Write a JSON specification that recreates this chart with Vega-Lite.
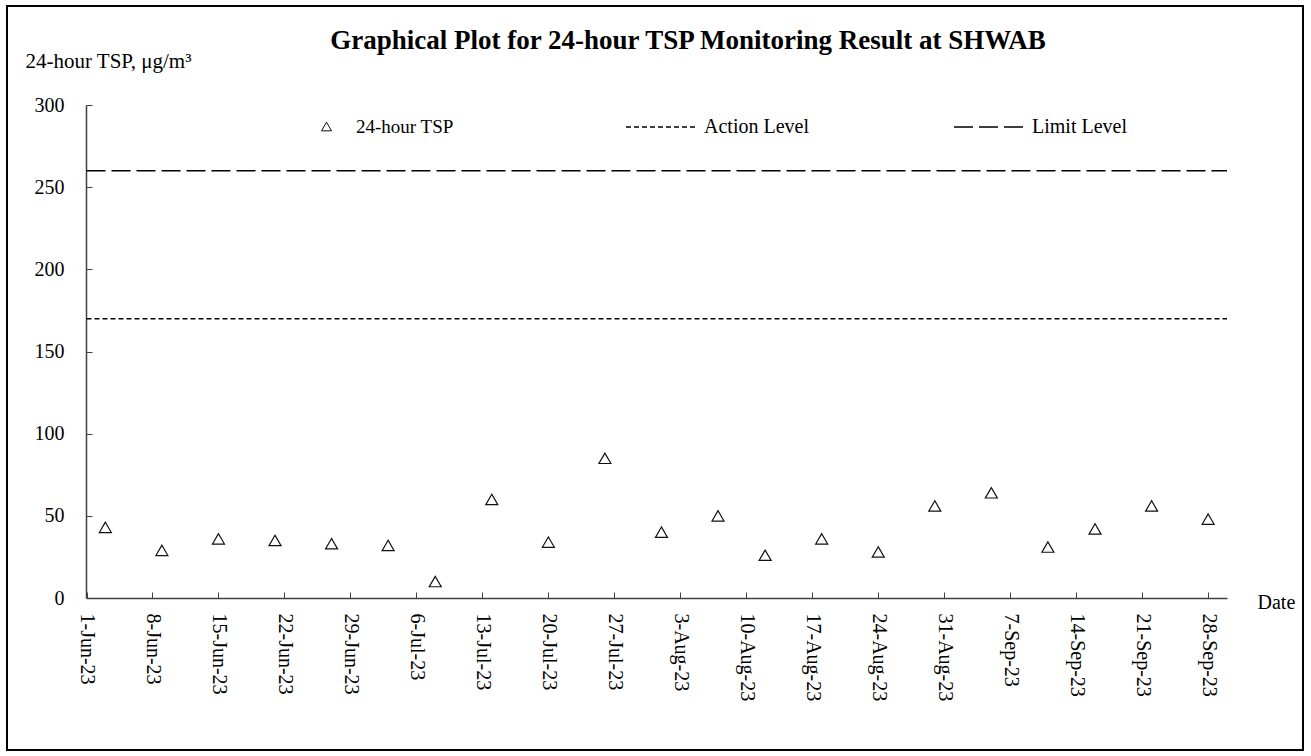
{
  "$schema": "https://vega.github.io/schema/vega-lite/v6.json",
  "width": 1296,
  "height": 744,
  "autosize": {"type": "none"},
  "padding": {"left": 7, "top": 6, "right": 8, "bottom": 6},
  "background": "white",
  "config": {
    "view": {"stroke": "#000", "strokeWidth": 2},
    "font": "Liberation Serif"
  },
  "title": {
    "text": "Graphical Plot for 24-hour TSP Monitoring Result at SHWAB",
    "font": "Liberation Serif",
    "fontSize": 27,
    "fontWeight": "bold",
    "color": "#000",
    "anchor": "middle",
    "frame": "group",
    "baseline": "alphabetic",
    "offset": -70,
    "dx": 33
  },
  "datasets": {
    "tsp": [
      {"date": "2023-06-03", "value": 43, "series": "24-hour TSP"},
      {"date": "2023-06-09", "value": 29, "series": "24-hour TSP"},
      {"date": "2023-06-15", "value": 36, "series": "24-hour TSP"},
      {"date": "2023-06-21", "value": 35, "series": "24-hour TSP"},
      {"date": "2023-06-27", "value": 33, "series": "24-hour TSP"},
      {"date": "2023-07-03", "value": 32, "series": "24-hour TSP"},
      {"date": "2023-07-08", "value": 10, "series": "24-hour TSP"},
      {"date": "2023-07-14", "value": 60, "series": "24-hour TSP"},
      {"date": "2023-07-20", "value": 34, "series": "24-hour TSP"},
      {"date": "2023-07-26", "value": 85, "series": "24-hour TSP"},
      {"date": "2023-08-01", "value": 40, "series": "24-hour TSP"},
      {"date": "2023-08-07", "value": 50, "series": "24-hour TSP"},
      {"date": "2023-08-12", "value": 26, "series": "24-hour TSP"},
      {"date": "2023-08-18", "value": 36, "series": "24-hour TSP"},
      {"date": "2023-08-24", "value": 28, "series": "24-hour TSP"},
      {"date": "2023-08-30", "value": 56, "series": "24-hour TSP"},
      {"date": "2023-09-05", "value": 64, "series": "24-hour TSP"},
      {"date": "2023-09-11", "value": 31, "series": "24-hour TSP"},
      {"date": "2023-09-16", "value": 42, "series": "24-hour TSP"},
      {"date": "2023-09-22", "value": 56, "series": "24-hour TSP"},
      {"date": "2023-09-28", "value": 48, "series": "24-hour TSP"}
    ],
    "levels": [
      {"level": "Action Level", "value": 170, "start": "2023-06-01", "end": "2023-09-30"},
      {"level": "Limit Level", "value": 260, "start": "2023-06-01", "end": "2023-09-30"}
    ]
  },
  "layer": [
    {
      "data": {"name": "levels"},
      "mark": {"type": "rule", "color": "#000", "strokeWidth": 1.5},
      "encoding": {
        "x": {
          "field": "start",
          "type": "temporal",
          "scale": {
            "type": "utc",
            "domain": [
              {"year": 2023, "month": 6, "date": 1, "utc": true},
              {"year": 2023, "month": 9, "date": 30, "utc": true}
            ],
            "nice": false,
            "range": [79.5, 1220]
          },
          "axis": {
            "title": "Date",
            "titleAngle": 0,
            "titleAlign": "left",
            "titleBaseline": "alphabetic",
            "titleX": 1250,
            "titleY": 10,
            "titleFont": "Liberation Serif",
            "titleFontSize": 20,
            "titleFontWeight": "normal",
            "titleColor": "#000",
            "values": [
              {"year": 2023, "month": 6, "date": 1, "utc": true},
              {"year": 2023, "month": 6, "date": 8, "utc": true},
              {"year": 2023, "month": 6, "date": 15, "utc": true},
              {"year": 2023, "month": 6, "date": 22, "utc": true},
              {"year": 2023, "month": 6, "date": 29, "utc": true},
              {"year": 2023, "month": 7, "date": 6, "utc": true},
              {"year": 2023, "month": 7, "date": 13, "utc": true},
              {"year": 2023, "month": 7, "date": 20, "utc": true},
              {"year": 2023, "month": 7, "date": 27, "utc": true},
              {"year": 2023, "month": 8, "date": 3, "utc": true},
              {"year": 2023, "month": 8, "date": 10, "utc": true},
              {"year": 2023, "month": 8, "date": 17, "utc": true},
              {"year": 2023, "month": 8, "date": 24, "utc": true},
              {"year": 2023, "month": 8, "date": 31, "utc": true},
              {"year": 2023, "month": 9, "date": 7, "utc": true},
              {"year": 2023, "month": 9, "date": 14, "utc": true},
              {"year": 2023, "month": 9, "date": 21, "utc": true},
              {"year": 2023, "month": 9, "date": 28, "utc": true}
            ],
            "labelExpr": "utcFormat(datum.value, '%-d-%b-%y')",
            "labelAngle": 90,
            "labelPadding": 21,
            "labelFont": "Liberation Serif",
            "labelFontSize": 20,
            "labelColor": "#000",
            "labelOverlap": false,
            "tickSize": -6,
            "tickColor": "#404040",
            "domainColor": "#404040",
            "domainWidth": 1.5,
            "grid": false,
            "offset": -152
          }
        },
        "x2": {"field": "end"},
        "y": {
          "field": "value",
          "type": "quantitative",
          "scale": {"domain": [0, 300], "nice": false, "zero": true, "range": [592, 99]},
          "axis": {
            "title": "24-hour TSP, μg/m³",
            "titleAngle": 0,
            "titleAlign": "left",
            "titleBaseline": "alphabetic",
            "titleX": -61,
            "titleY": 61,
            "titleFont": "Liberation Serif",
            "titleFontSize": 21,
            "titleFontWeight": "normal",
            "titleColor": "#000",
            "values": [0, 50, 100, 150, 200, 250, 300],
            "labelPadding": 28,
            "labelFont": "Liberation Serif",
            "labelFontSize": 20,
            "labelColor": "#000",
            "tickSize": -6,
            "tickColor": "#404040",
            "domainColor": "#404040",
            "domainWidth": 1.5,
            "grid": false,
            "offset": -79
          }
        },
        "strokeDash": {
          "field": "level",
          "type": "nominal",
          "scale": {"domain": ["Action Level", "Limit Level"], "range": [[5, 3], [19, 6]]},
          "legend": {
            "title": null,
            "orient": "none",
            "legendX": 618,
            "legendY": 85,
            "direction": "horizontal",
            "symbolType": "stroke",
            "symbolSize": 4900,
            "symbolStrokeWidth": 1.5,
            "symbolStrokeColor": "#000",
            "labelOffset": 7,
            "labelFont": "Liberation Serif",
            "labelFontSize": 20,
            "labelColor": "#000",
            "columnPadding": 142,
            "padding": 0
          }
        }
      }
    },
    {
      "data": {"name": "tsp"},
      "mark": {"type": "point", "filled": false, "size": 144, "color": "#111", "strokeWidth": 1.2, "opacity": 1},
      "encoding": {
        "x": {"field": "date", "type": "temporal"},
        "y": {"field": "value", "type": "quantitative"},
        "shape": {
          "field": "series",
          "type": "nominal",
          "scale": {"range": ["triangle-up"]},
          "legend": {
            "title": null,
            "orient": "none",
            "legendX": 310,
            "legendY": 111,
            "symbolSize": 100,
            "symbolStrokeColor": "#111",
            "symbolStrokeWidth": 1,
            "symbolFillColor": "transparent",
            "labelOffset": 20,
            "labelFont": "Liberation Serif",
            "labelFontSize": 19,
            "labelColor": "#000",
            "padding": 0
          }
        }
      }
    }
  ]
}
